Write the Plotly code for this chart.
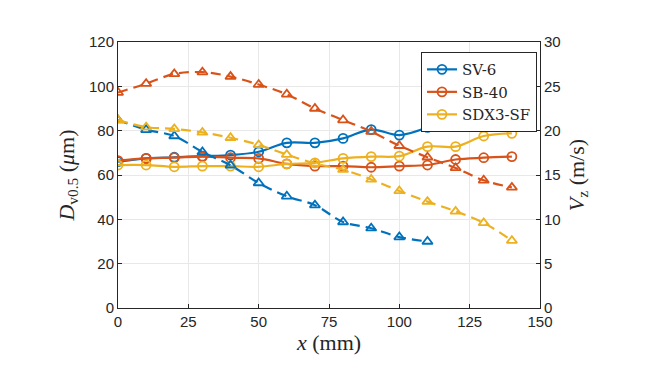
import plotly.graph_objects as go

x_sv6 = [0, 10, 20, 30, 40, 50, 60, 70, 80, 90, 100, 110]
x_sb40 = [0, 10, 20, 30, 40, 50, 60, 70, 80, 90, 100, 110, 120, 130, 140]
x_sdx3 = [0, 10, 20, 30, 40, 50, 60, 70, 80, 90, 100, 110, 120, 130, 140]

# Dv0.5 (um), left axis
d_sv6 = [66, 67.5, 68, 68.5, 69, 70.5, 74.5, 74.5, 76.5, 80.5, 78, 81.5]
d_sb40 = [66.5, 67.5, 67.8, 68.3, 67.8, 67.5, 65, 64, 64, 63.5, 64, 64.5, 67, 67.8, 68.3]
d_sdx3 = [64.5, 64.5, 63.7, 64, 64, 63.7, 65, 65.5, 67.5, 68.3, 68.5, 72.8, 72.8, 77.6, 78.8]

# Vz (m/s), right axis
v_sv6 = [21.2, 20.1, 19.4, 17.6, 16.1, 14.1, 12.6, 11.6, 9.7, 9.0, 8.0, 7.5]
v_sb40 = [24.3, 25.3, 26.4, 26.6, 26.1, 25.2, 24.1, 22.5, 21.2, 19.9, 18.3, 17.0, 15.8, 14.4, 13.6]
v_sdx3 = [21.2, 20.4, 20.2, 19.8, 19.2, 18.4, 17.3, 16.3, 15.6, 14.5, 13.2, 12.0, 10.9, 9.6, 7.6]

names = ["SV-6", "SB-40", "SDX3-SF"]
colors = ["#0072BD", "#D95319", "#EDB120"]

x_ticks = [0, 25, 50, 75, 100, 125, 150]
y_ticks = [0, 20, 40, 60, 80, 100, 120]
y2_ticks = [0, 5, 10, 15, 20, 25, 30]

fig = go.Figure()

series = [(x_sv6, d_sv6, v_sv6), (x_sb40, d_sb40, v_sb40), (x_sdx3, d_sdx3, v_sdx3)]
for (xs, ds, vs), name, c in zip(series, names, colors):
    fig.add_trace(go.Scatter(
        x=xs, y=vs, yaxis="y2", mode="lines+markers", showlegend=False,
        line=dict(color=c, width=2.2, dash="10px,6px", shape="spline", smoothing=1),
        marker=dict(symbol="triangle-up-open", size=9, color=c, line=dict(width=1.8, color=c)),
    ))
for (xs, ds, vs), name, c in zip(series, names, colors):
    fig.add_trace(go.Scatter(
        x=xs, y=ds, mode="lines+markers", name=name,
        line=dict(color=c, width=2.2, shape="spline", smoothing=1),
        marker=dict(symbol="circle-open", size=9, color=c, line=dict(width=1.8, color=c)),
    ))

tickfont = dict(family="Liberation Sans, Arial, sans-serif", size=15, color="#262626")
titlefont = dict(family="Liberation Serif, DejaVu Serif, serif", size=22, color="#262626")

fig.update_layout(
    width=652, height=362,
    margin=dict(l=110, r=120, t=34, b=62),
    paper_bgcolor="white", plot_bgcolor="white",
    xaxis=dict(
        range=[0, 150], tickvals=x_ticks, ticks="inside", ticklen=4, tickcolor="#262626",
        showline=True, linecolor="#262626", linewidth=1, mirror=True,
        showgrid=True, gridcolor="#e8e8e8", zeroline=False, tickfont=tickfont,
        title=dict(text="<i>x</i> (mm)", font=titlefont, standoff=2),
    ),
    yaxis=dict(
        range=[0, 120], tickvals=y_ticks, ticks="inside", ticklen=4, tickcolor="#262626",
        showline=True, linecolor="#262626", linewidth=1,
        showgrid=True, gridcolor="#e8e8e8", zeroline=False, tickfont=tickfont,
        title=dict(text="<i>D</i><sub>v0.5</sub> (<i>μ</i>m)", font=titlefont, standoff=8),
    ),
    yaxis2=dict(
        range=[0, 30], tickvals=y2_ticks, ticks="inside", ticklen=4, tickcolor="#262626",
        overlaying="y", side="right", showline=True, linecolor="#262626", linewidth=1,
        showgrid=False, zeroline=False, tickfont=tickfont,
        title=dict(text="<i>V</i><sub>z</sub> (m/s)", font=titlefont, standoff=8),
    ),
    legend=dict(
        x=0.718, y=0.962, xanchor="left", yanchor="top",
        bgcolor="white", bordercolor="#262626", borderwidth=1,
        font=dict(family="DejaVu Serif, Liberation Serif, serif", size=15, color="#262626"),
        tracegroupgap=0, itemwidth=30,
    ),
)

fig.write_html("out.html")
